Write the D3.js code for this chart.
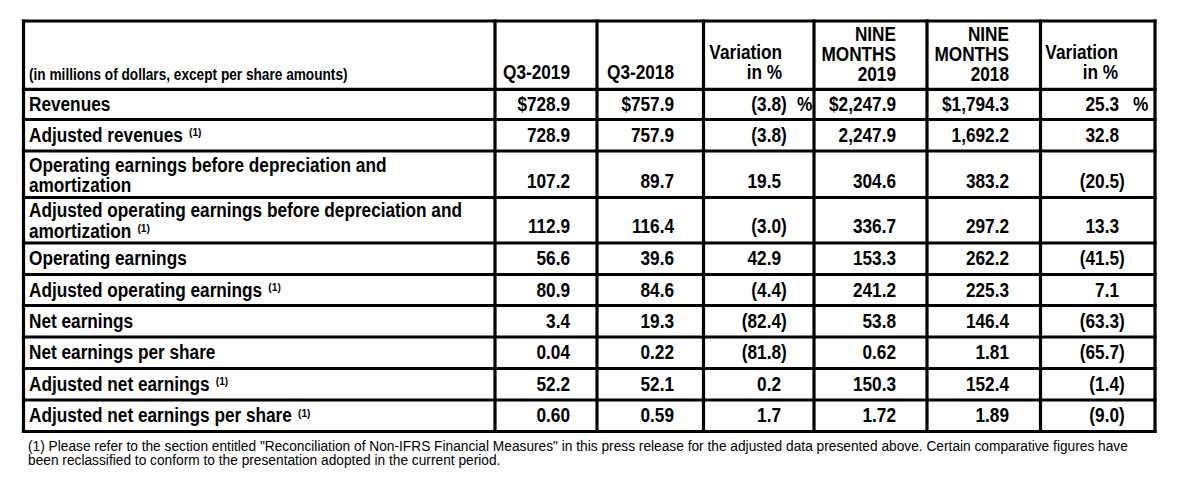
<!DOCTYPE html>
<html>
<head>
<meta charset="utf-8">
<script src="https://cdn.jsdelivr.net/npm/d3@7"></script>
<style>
  html, body { margin: 0; padding: 0; background: #fff; }
  svg { display: block; }
  text { font-family: "Liberation Sans", Arial, sans-serif; fill: #000; }
</style>
</head>
<body>
<svg id="chart" width="1182" height="486"></svg>
<script>
// ---------------- DATA ----------------
const unitNote = "(in millions of dollars, except per share amounts)";
const columnHeaders = [
  ["Q3-2019"],
  ["Q3-2018"],
  ["Variation", "in %"],
  ["NINE", "MONTHS", "2019"],
  ["NINE", "MONTHS", "2018"],
  ["Variation", "in %"]
];
const categories = [
  ["Revenues"],
  ["Adjusted revenues"],
  ["Operating earnings before depreciation and", "amortization"],
  ["Adjusted operating earnings before depreciation and", "amortization"],
  ["Operating earnings"],
  ["Adjusted operating earnings"],
  ["Net earnings"],
  ["Net earnings per share"],
  ["Adjusted net earnings"],
  ["Adjusted net earnings per share"]
];
const footnoted = [false, true, false, true, false, true, false, false, true, true];
const decimals  = [1, 1, 1, 1, 1, 1, 1, 2, 1, 2];
const q3_2019   = [728.9, 728.9, 107.2, 112.9, 56.6, 80.9, 3.4, 0.04, 52.2, 0.60];
const q3_2018   = [757.9, 757.9, 89.7, 116.4, 39.6, 84.6, 19.3, 0.22, 52.1, 0.59];
const varQ3     = [-3.8, -3.8, 19.5, -3.0, 42.9, -4.4, -82.4, -81.8, 0.2, 1.7];
const nine_2019 = [2247.9, 2247.9, 304.6, 336.7, 153.3, 241.2, 53.8, 0.62, 150.3, 1.72];
const nine_2018 = [1794.3, 1692.2, 383.2, 297.2, 262.2, 225.3, 146.4, 1.81, 152.4, 1.89];
const varNine   = [25.3, 32.8, -20.5, 13.3, -41.5, 7.1, -63.3, -65.7, -1.4, -9.0];
const footnoteLines = [
  "(1) Please refer to the section entitled \"Reconciliation of Non-IFRS Financial Measures\" in this press release for the adjusted data presented above. Certain comparative figures have",
  "been reclassified to conform to the presentation adopted in the current period."
];

// ---------------- LAYOUT ----------------
const svg = d3.select("#chart");
const SX = 0.883;      // horizontal condensation of the typeface
const FS = 19.5;       // main font size

const colEdges = [23.5, 495, 597, 703.5, 814, 927, 1040.5, 1155];
const rowEdges = [21, 89.3, 119.5, 151, 197.5, 243, 274.5, 305.5, 337, 368.5, 400, 431.5];

const idx = d3.range(categories.length);
const rowTop = d3.scaleOrdinal().domain(idx).range(rowEdges.slice(1, -1));
const rowBot = d3.scaleOrdinal().domain(idx).range(rowEdges.slice(2));
// right-edge (digit edge) of each data column
const colRight = d3.scaleOrdinal().domain(d3.range(6)).range([570, 674, 781, 896, 1009, 1119]);
const headRight = d3.scaleOrdinal().domain(d3.range(6)).range([570, 674, 782, 896, 1009, 1118]);
const pctX = d3.scaleOrdinal().domain([2, 5]).range([797, 1133]);

function txt(g, x, y, s, opts = {}) {
  const t = g.append("text")
    .attr("transform", `translate(${x},${y}) scale(${opts.sx ?? SX},1)`)
    .attr("font-size", opts.size ?? FS)
    .attr("font-weight", opts.weight ?? "bold")
    .attr("text-anchor", opts.anchor ?? "start")
    .text(s);
  return t;
}
// text fitted to a given width by horizontal scaling
function fitTxt(g, x, y, s, width, opts = {}) {
  const t = txt(g, x, y, s, Object.assign({}, opts, { sx: 1 }));
  const w = t.node().getComputedTextLength();
  t.attr("transform", `translate(${x},${y}) scale(${width / w},1)`);
  return t;
}

const gText = svg.append("g");

// header
fitTxt(gText, 29, 80, unitNote, 319, { size: 16 });
columnHeaders.forEach((lines, c) => {
  const n = lines.length;
  const lastBase = n === 3 ? 81 : 79;
  lines.forEach((l, i) => {
    txt(gText, headRight(c), lastBase - (n - 1 - i) * 20, l, { anchor: "end" });
  });
});

// body
const fmt = (v, d) => d3.format(`,.${d}f`)(Math.abs(v));
const series = [q3_2019, q3_2018, varQ3, nine_2019, nine_2018, varNine];

idx.forEach(r => {
  const top = rowTop(r), bot = rowBot(r);
  const lines = categories[r];
  let valBase, labelBases;
  if (lines.length === 1) {
    valBase = (top + bot) / 2 + 6.5;
    labelBases = [valBase];
  } else {
    valBase = bot - 10;
    labelBases = [bot - 5.3 - 20.5, bot - 5.3];
  }
  lines.forEach((l, i) => {
    const t = txt(gText, 29, labelBases[i], l);
    if (footnoted[r] && i === lines.length - 1) {
      t.append("tspan").attr("font-size", 11.5).attr("dx", 7).attr("dy", -5.4).text("(1)");
    }
  });
  series.forEach((arr, c) => {
    const v = arr[r];
    const isVar = (c === 2 || c === 5);
    const d = isVar ? 1 : decimals[r];
    let s = fmt(v, d);
    if (!isVar && r === 0) s = "$" + s;
    if (v < 0) {
      txt(gText, colRight(c), valBase, "(" + s, { anchor: "end" });
      txt(gText, colRight(c), valBase, ")");
    } else {
      txt(gText, colRight(c), valBase, s, { anchor: "end" });
    }
    if (isVar && r === 0) txt(gText, pctX(c), valBase, "%");
  });
});

// grid lines
const gLines = svg.append("g").attr("stroke", "#000").attr("stroke-width", 3.2).attr("stroke-linecap", "square");
gLines.selectAll("line.h").data(rowEdges).join("line").attr("class", "h")
  .attr("x1", colEdges[0]).attr("x2", colEdges[colEdges.length - 1])
  .attr("y1", d => d).attr("y2", d => d);
gLines.selectAll("line.v").data(colEdges).join("line").attr("class", "v")
  .attr("x1", d => d).attr("x2", d => d)
  .attr("y1", rowEdges[0]).attr("y2", rowEdges[rowEdges.length - 1]);

// footnote
fitTxt(gText, 28, 450.5, footnoteLines[0], 1101, { size: 14.5, weight: "normal" });
fitTxt(gText, 28, 465, footnoteLines[1], 473, { size: 14.5, weight: "normal" });
</script>
</body>
</html>
